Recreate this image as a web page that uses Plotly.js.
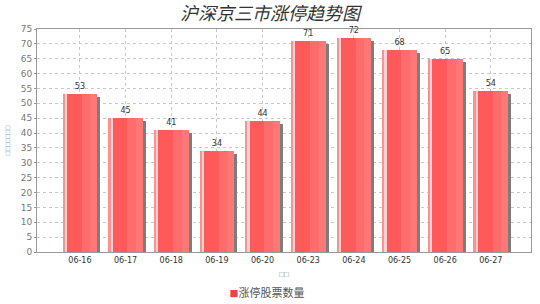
<!DOCTYPE html>
<html><head><meta charset="utf-8">
<script src="https://cdn.plot.ly/plotly-3.0.1.min.js"></script>
<style>html,body{margin:0;padding:0;background:#fff}#c{width:540px;height:304px}</style>
</head><body><div id="c"></div>
<script>
const dates = ["06-16","06-17","06-18","06-19","06-20","06-23","06-24","06-25","06-26","06-27"];
const counts = [53,45,41,34,44,71,72,68,65,54];
const seriesName = "涨停股票数量";
const titleText = "沪深京三市涨停趋势图";
const yTitle = "□□□□□□□";
const xTitle = "□□";

const W = 0.76, OFF = -0.38;
const shadowVals = counts.map(v => v - 1);
const traces = [
  {type:'bar', x:dates, y:shadowVals, width:W, offset:OFF+0.07, marker:{color:'#7d7d7d', line:{width:0}}, showlegend:false, hoverinfo:'skip'},
  {type:'bar', x:dates, y:counts, width:W, offset:OFF, name:seriesName, showlegend:false, marker:{color:'#ff5a5a', line:{width:0}},
   text:counts.map(String), textposition:'outside', cliponaxis:false, textfont:{size:8, color:'#333', family:'DejaVu Sans'}},
  {type:'bar', x:dates, y:counts, width:W*0.45, offset:OFF+W*0.55, marker:{color:'#ff6c6c', line:{width:0}}, showlegend:false, hoverinfo:'skip'},
  {type:'bar', x:dates, y:counts, width:W*0.2, offset:OFF+W*0.8, marker:{color:'#ff7878', line:{width:0}}, showlegend:false, hoverinfo:'skip'},
  {type:'bar', x:dates, y:counts, width:0.05, offset:OFF, marker:{color:'#ff9090', line:{width:0}}, showlegend:false, hoverinfo:'skip'},
  {type:'bar', x:dates, y:counts, width:0.045, offset:OFF+0.05, marker:{color:'#ffd4d4', line:{width:0}}, showlegend:false, hoverinfo:'skip'},
  {type:'scatter', mode:'markers', x:[null], y:[null], showlegend:true,
   name:'<span style="color:#e8454f;font-size:9px">■</span>' + seriesName,
   marker:{symbol:'square', size:1, opacity:0, color:'#ffffff'}}
];
const layout = {
  width:540, height:304, margin:{l:37, r:9, t:29, b:52, autoexpand:false},
  paper_bgcolor:'#fff', plot_bgcolor:'#fff',
  barmode:'overlay', bargap:0,
  font:{family:'Liberation Sans, Arial, sans-serif', color:'#444'},
  title:{text:titleText, x:0.5, xanchor:'center', y:0.955, yanchor:'middle',
         font:{family:'Noto Sans CJK SC', size:18, color:'#333', style:'italic'}},
  xaxis:{type:'category', range:[-0.94, 9.88], automargin:false, showgrid:true, gridcolor:'#c8c8c8', griddash:'dot', gridwidth:1,
         showline:true, linecolor:'#999', mirror:true, ticks:'', tickfont:{size:8, color:'#333', family:'DejaVu Sans'},
         title:{text:xTitle, font:{size:8, color:'#888'}, standoff:8}},
  yaxis:{range:[0,75], dtick:5, automargin:false, showgrid:true, gridcolor:'#c8c8c8', griddash:'dot', gridwidth:1,
         showline:true, linecolor:'#999', mirror:true, ticks:'outside', ticklen:2, tickcolor:'#999',
         tickfont:{size:9, color:'#777', family:'DejaVu Sans'}, zeroline:false,
         title:{text:yTitle, font:{size:7, color:'#888'}, standoff:9}},
  legend:{orientation:'h', x:0.463, xanchor:'center', xref:'container', y:0.036, yanchor:'middle', yref:'container',
          font:{family:'Noto Sans CJK SC', size:11, color:'#555'}, itemwidth:30}
};
Plotly.newPlot('c', traces, layout, {staticPlot:true});
</script></body></html>
